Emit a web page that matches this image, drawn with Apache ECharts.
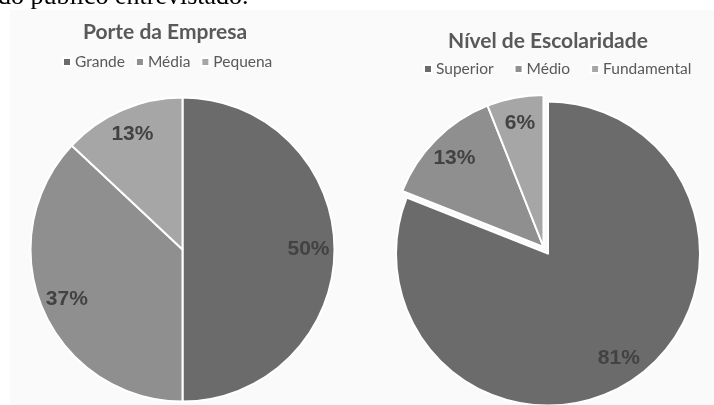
<!DOCTYPE html>
<html>
<head>
<meta charset="utf-8">
<script src="https://cdn.jsdelivr.net/npm/echarts@6/dist/echarts.min.js"></script>
<style>html,body{margin:0;padding:0;background:#fff;}#c{width:714px;height:405px;}</style>
</head>
<body>
<div id="c"></div>
<script>
const titleLeft = 'Porte da Empresa';
const categoriesLeft = ['Grande', 'Média', 'Pequena'];
const valuesLeft = [50, 37, 13];

const titleRight = 'Nível de Escolaridade';
const categoriesRight = ['Superior', 'Médio', 'Fundamental'];
const valuesRight = [81, 13, 6];
const selectedRight = 'Superior';

const headerText = 'do público entrevistado.';
const colors = ['#6b6b6b', '#8f8f8f', '#a6a6a6'];

const chart = echarts.init(document.getElementById('c'));
const uiFont = 'Lato';

function mainSeries(cats, vals, center, selName) {
  return {
    type: 'pie', radius: 152, center: center, startAngle: 90, clockwise: true,
    selectedMode: selName ? 'single' : false, selectedOffset: 8, silent: true,
    label: {show: false}, labelLine: {show: false},
    itemStyle: {borderColor: '#ffffff', borderWidth: 2},
    data: cats.map((c, i) => ({name: c, value: vals[i], selected: c === selName, itemStyle: {color: colors[i]}}))
  };
}
function labelSeries(cats, vals, center, selName) {
  return {
    type: 'pie', radius: [94, 152], center: center, startAngle: 90, clockwise: true,
    selectedMode: selName ? 'single' : false, selectedOffset: 8, silent: true,
    legendHoverLink: false,
    itemStyle: {color: 'rgba(0,0,0,0)', borderWidth: 0},
    label: {show: true, position: 'inside', formatter: '{d}%', fontFamily: 'Liberation Sans', fontWeight: 'bold', fontSize: 21, color: '#424242'},
    labelLine: {show: false},
    data: cats.map((c, i) => ({name: c, value: vals[i], selected: c === selName}))
  };
}

chart.setOption({
  backgroundColor: '#ffffff',
  animation: false,
  graphic: [
    {type: 'rect', shape: {x: 10, y: 10, width: 704, height: 395}, style: {fill: '#fafafa'}, z: -10},
    {type: 'text', left: -2, top: -16, style: {text: headerText, font: '26px "Liberation Serif"', fill: '#000'}}
  ],
  title: [
    {text: titleLeft, left: 165, top: 22, padding: 0, textAlign: 'center', textStyle: {fontFamily: uiFont, fontSize: 21, fontWeight: 'bold', color: '#595959'}},
    {text: titleRight, left: 548, top: 31, padding: 0, textAlign: 'center', textStyle: {fontFamily: uiFont, fontSize: 21, fontWeight: 'bold', color: '#595959'}}
  ],
  legend: [
    {data: categoriesLeft, left: 57, top: 49, icon: 'rect', itemWidth: 8, itemHeight: 8, itemGap: 10,
     textStyle: {fontFamily: uiFont, fontSize: 15.5, color: '#595959', padding: [0,0,0,-1]}, selectedMode: false},
    {data: categoriesRight, left: 418, top: 56, icon: 'rect', itemWidth: 8, itemHeight: 8, itemGap: 20,
     textStyle: {fontFamily: uiFont, fontSize: 15.5, color: '#595959', padding: [0,0,0,-1]}, selectedMode: false}
  ],
  series: [
    mainSeries(categoriesLeft, valuesLeft, [182.5, 249.5], null),
    mainSeries(categoriesRight, valuesRight, [543.5, 247], selectedRight),
    labelSeries(categoriesLeft, valuesLeft, [182.5, 249.5], null),
    labelSeries(categoriesRight, valuesRight, [543.5, 247], selectedRight)
  ]
});
</script>
</body>
</html>
